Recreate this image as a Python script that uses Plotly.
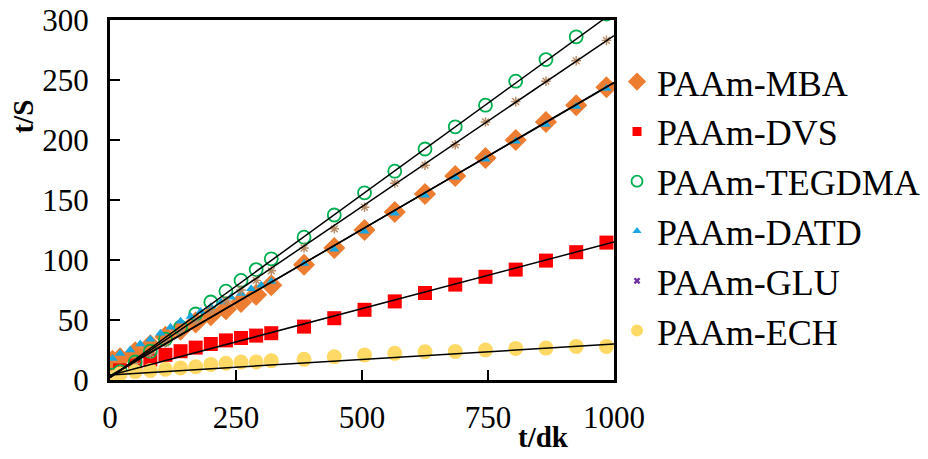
import plotly.graph_objects as go

# ---------------- data ----------------
t_late = [385, 445, 505, 565, 625, 685, 745, 805, 865, 925, 985]
t_early30 = [5, 20, 50, 80, 110, 140, 170, 200, 230, 260, 290, 320]
t_early20 = [5, 20, 40, 60, 80, 100, 120, 140, 160, 180, 200, 220, 240, 260, 280, 300, 320]

mba_t = t_early30 + t_late
mba_y = [16, 18, 23, 29, 36, 42, 48, 54, 59, 65, 71, 79,
         96, 110, 125, 140, 155, 170, 185, 200, 215, 229, 244]

dvs_t = t_early30 + t_late
dvs_y = [4, 8, 12, 17, 21, 24, 27, 30, 33, 35, 37, 39,
         44.5, 51.5, 58.5, 65.5, 72.5, 79.5, 86, 92, 99.5, 106.5, 114.5]

tegdma_t = t_early30 + t_late
tegdma_y = [4, 7, 15, 24, 34, 44, 55, 65, 74, 83, 92, 101,
            119, 137.5, 156, 174, 192.5, 211, 229, 249, 267, 286, 305]

datd_t = t_early20 + t_late
datd_y = [18, 22, 25, 30, 34, 39, 44, 49, 53, 57, 61, 65, 69, 72, 76, 79, 82,
          97, 109, 124, 139, 154, 169, 184, 199, 213, 228, 243]

glu_t = t_early30 + t_late
glu_y = [5, 8, 14, 22, 31, 40, 49, 58, 66, 75, 83, 91,
         110, 126, 144, 164, 179, 196, 215, 232, 249, 266, 283]

ech_t = t_early30 + t_late
ech_y = [2, 5, 7, 8, 9, 10, 11, 13, 14, 15, 15, 16,
         17.2, 19.4, 20.8, 22.2, 23.6, 23.8, 25, 26.2, 26.6, 28, 28]

# linear trend lines: t/S = intercept + slope * t
trend_names = ["PAAm-MBA", "PAAm-DVS", "PAAm-TEGDMA", "PAAm-DATD", "PAAm-GLU", "PAAm-ECH"]
trend_slope = [0.245, 0.111, 0.305, 0.244, 0.285, 0.0258]
trend_intercept = [3.0, 4.0, 2.0, 3.5, 2.0, 4.2]
trend_range = [0, 1000]

x_ticks = [0, 250, 500, 750, 1000]
y_ticks = [0, 50, 100, 150, 200, 250, 300]

names = ["PAAm-MBA", "PAAm-DVS", "PAAm-TEGDMA", "PAAm-DATD", "PAAm-GLU", "PAAm-ECH"]

# ---------------- figure ----------------
FONT = "Liberation Serif, Times New Roman, serif"
fig = go.Figure()

series = [
    (mba_t, mba_y, dict(symbol="diamond", size=17, color="#ED7D31")),
    (dvs_t, dvs_y, dict(symbol="square", size=14, color="#FF0000")),
    (tegdma_t, tegdma_y, dict(symbol="circle-open", size=13, color="#00B050",
                              line=dict(width=1.8, color="#00B050"))),
    (datd_t, datd_y, dict(symbol="triangle-up", size=9, color="#1AA7E0")),
    (glu_t, glu_y, dict(symbol="asterisk-open", size=8, color="#B98B64",
                        line=dict(width=1.4, color="#B98B64"))),
    (ech_t, ech_y, dict(symbol="circle", size=15, color="#FFD966")),
]
for (tx, ty, mk), nm in zip(series, names):
    fig.add_trace(go.Scatter(x=tx, y=ty, mode="markers", marker=mk,
                             name=nm, showlegend=False, cliponaxis=True))

for nm, s, b in zip(trend_names, trend_slope, trend_intercept):
    xs = trend_range
    ys = [b + s * v for v in xs]
    fig.add_trace(go.Scatter(x=xs, y=ys, mode="lines",
                             line=dict(color="black", width=1.5),
                             showlegend=False, hoverinfo="skip", name=nm + " fit"))

legend_markers = [
    dict(symbol="diamond", size=14, color="#ED7D31"),
    dict(symbol="square", size=9, color="#FF0000"),
    dict(symbol="circle-open", size=11, color="#00B050", line=dict(width=1.8, color="#00B050")),
    dict(symbol="triangle-up", size=8, color="#1AA7E0"),
    dict(symbol="x", size=6, color="#7030A0"),
    dict(symbol="circle", size=12, color="#FFD966"),
]
for nm, mk in zip(names, legend_markers):
    fig.add_trace(go.Scatter(x=[None], y=[None], mode="markers", marker=mk,
                             name=nm, showlegend=True))

axis_common = dict(
    showline=True, linecolor="black", linewidth=3, mirror=True,
    ticks="inside", ticklen=10, tickwidth=2, tickcolor="black",
    showgrid=False, zeroline=False, automargin=False,
    ticklabeloverflow="allow",
    tickfont=dict(family=FONT, size=31, color="black"),
)
fig.update_xaxes(range=[0, 1000], tickmode="array", tickvals=x_ticks,
                 ticktext=[str(v) for v in x_ticks], ticklabelstandoff=8, **axis_common)
fig.update_yaxes(range=[0, 300], tickmode="array", tickvals=y_ticks,
                 ticktext=[str(v) for v in y_ticks], ticklabelstandoff=12, **axis_common)

# the page body has an 8px margin, so the figure is sized/offset to compensate
fig.update_layout(
    width=920, height=451,
    margin=dict(l=102, r=314, t=12, b=79, autoexpand=False),
    paper_bgcolor="white", plot_bgcolor="white",
    font=dict(family=FONT, color="black"),
    legend=dict(x=1.006, y=0.912, xanchor="left", yanchor="top",
                font=dict(family=FONT, size=36, color="black"),
                bgcolor="rgba(0,0,0,0)", borderwidth=0, tracegroupgap=0),
    annotations=[
        dict(text="<b>t/S</b>", xref="paper", yref="paper", x=-0.172, y=0.733,
             showarrow=False, textangle=-90, font=dict(family=FONT, size=29, color="black"),
             xanchor="center", yanchor="middle"),
        dict(text="<b>t/dk</b>", xref="paper", yref="paper", x=0.861, y=-0.158,
             showarrow=False, font=dict(family=FONT, size=29, color="black"),
             xanchor="center", yanchor="middle"),
    ],
)

fig.write_html("out.html")
